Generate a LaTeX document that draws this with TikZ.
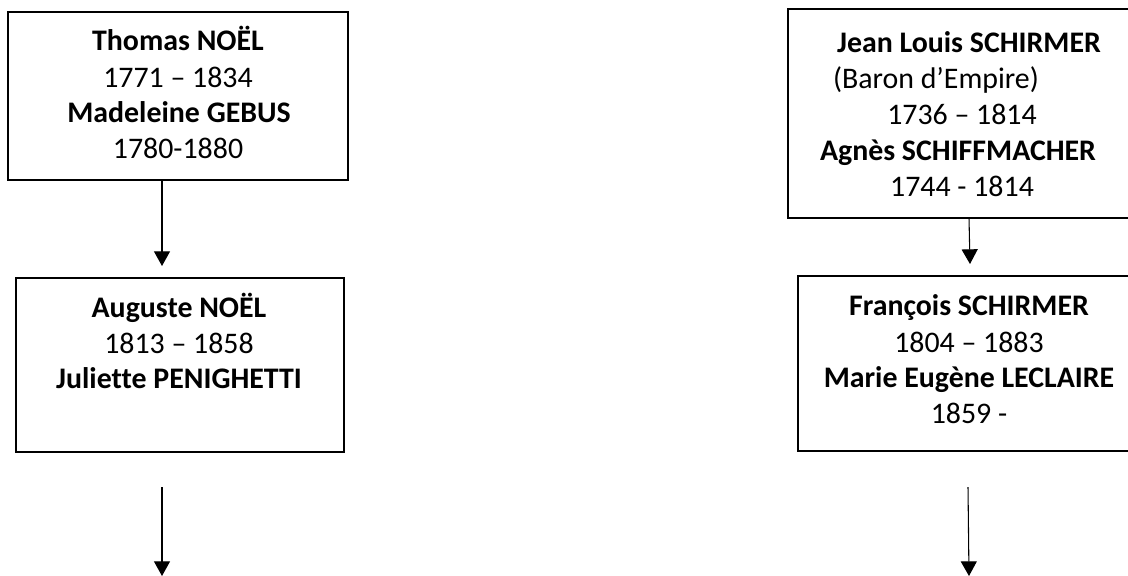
\documentclass[tikz,border=0pt]{standalone}
\usepackage{fontspec}
\setmainfont{Carlito}[Ligatures=NoCommon]
\usetikzlibrary{arrows.meta}
\tikzset{
  famillebox/.style={draw=black, line width=1pt, fill=none},
  ligne/.style={inner sep=0pt, anchor=base, font=\fontsize{22.4}{27}\selectfont},
  nom/.style={ligne, font=\fontsize{22.4}{27}\selectfont\bfseries},
  fleche/.style={line width=0.8pt, -{Triangle[length=11pt,width=12pt]}}
}
\begin{document}
\begin{tikzpicture}[x=0.75pt,y=-0.75pt]
\useasboundingbox (0,0) rectangle (1128,575);
% left column
\draw[famillebox] (8,12) rectangle (348,180);
\coordinate (b1bot) at (162,180);
\node[nom] (t1) at (178,50) {Thomas NOËL};
\node[ligne] (t2) at (178,87) {1771 – 1834};
\node[nom] (t3) at (179,122) {Madeleine GEBUS};
\node[ligne] (t4) at (178,158) {1780-1880};
\coordinate (b2top) at (162,266);
\draw[famillebox] (16,278) rectangle (344,452);
\node[nom] (a1) at (179,317) {Auguste NOËL};
\node[ligne] (a2) at (179,353) {1813 – 1858};
\node[nom] (a3) at (179,388) {Juliette PENIGHETTI};
\coordinate (l3s) at (162,487);
\coordinate (l3e) at (162,576);
\draw[fleche] (b1bot) -- (b2top);
\draw[fleche] (l3s) -- (l3e);
% right column
\draw[famillebox] (788,9) rectangle (1142,218);
\node[nom] (j1) at (969,52) {Jean Louis SCHIRMER};
\node[ligne] (j2) at (936,88) {(Baron d’Empire)};
\node[ligne] (j3) at (962,124) {1736 – 1814};
\node[nom] (j4) at (958,160) {Agnès SCHIFFMACHER};
\node[ligne] (j5) at (962,196) {1744 - 1814};
\coordinate (r1s) at (969,218);
\coordinate (r1e) at (970,264);
\draw[famillebox] (798,276) rectangle (1142,451);
\node[nom] (f1) at (969,315) {François SCHIRMER};
\node[ligne] (f2) at (969,352) {1804 – 1883};
\node[nom] (f3) at (969,387) {Marie Eugène LECLAIRE};
\node[ligne] (f4) at (969,423) {1859 -};
\coordinate (r2s) at (968,487);
\coordinate (r2e) at (969,576);
\draw[fleche] (r1s) -- (r1e);
\draw[fleche] (r2s) -- (r2e);
\end{tikzpicture}
\end{document}
